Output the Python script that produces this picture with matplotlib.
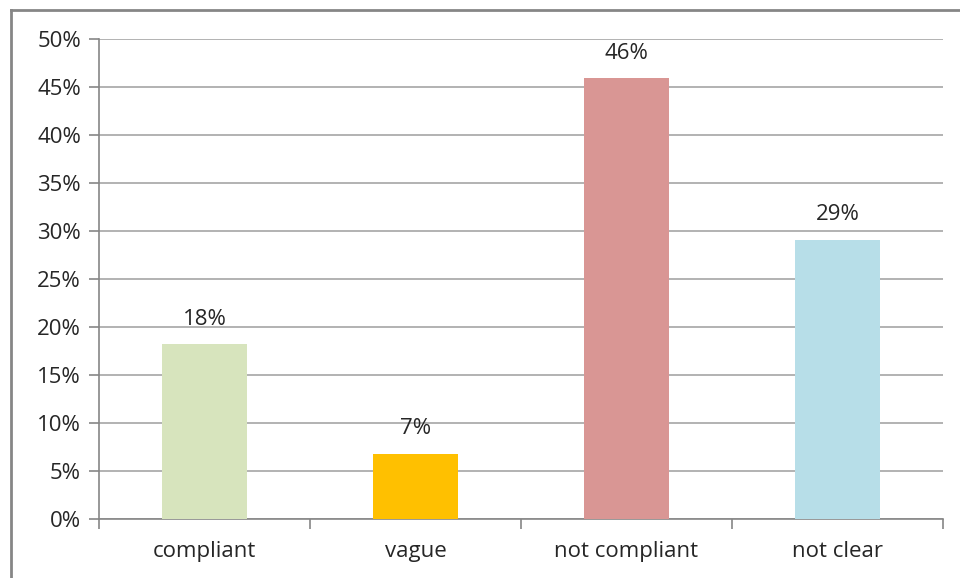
import numpy as np
import matplotlib.pyplot as plt
from matplotlib.lines import Line2D
from matplotlib.ticker import FuncFormatter

categories = ['compliant', 'vague', 'not compliant', 'not clear']
values = [0.182, 0.068, 0.459, 0.291]
labels = ['18%', '7%', '46%', '29%']
colors = ['#D7E4BD', '#FFC000', '#D99694', '#B7DEE8']

plt.rcParams['font.family'] = ['Open Sans', 'DejaVu Sans']
fs = 16

fig = plt.figure(figsize=(9.6, 5.78), dpi=100)
ax = fig.add_axes([99 / 960, 59 / 578, 844 / 960, 480 / 578])

x = np.arange(len(categories))
bars = ax.bar(x, values, width=0.4, color=colors, zorder=3)

# data labels above bars
for xi, v, lab in zip(x, values, labels):
    ax.annotate(lab, (xi, v), xytext=(0, 14), textcoords='offset points',
                ha='center', va='baseline', fontsize=fs, color='#262626')

ax.set_xlim(-0.5, len(categories) - 0.5)
ax.set_ylim(0, 0.5)
ax.set_yticks(np.arange(0, 0.501, 0.05))
ax.yaxis.set_major_formatter(FuncFormatter(lambda v, p: '%d%%' % round(v * 100)))
ax.yaxis.grid(True, color='#A6A6A6', linewidth=1.2, zorder=0)

ax.set_xticks(x)
ax.set_xticklabels(categories)
ax.set_xticks(np.arange(-0.5, len(categories)), minor=True)
ax.tick_params(axis='x', which='major', length=0, pad=16, labelsize=fs, labelcolor='#262626')
ax.tick_params(axis='x', which='minor', length=7, color='#868686', width=1.2)
ax.tick_params(axis='y', length=7, color='#868686', width=1.2, labelsize=fs,
               labelcolor='#262626', pad=6)

for s in ['top', 'right']:
    ax.spines[s].set_visible(False)
for s in ['left', 'bottom']:
    ax.spines[s].set_color('#868686')
    ax.spines[s].set_linewidth(1.2)

# chart area border (left and top visible)
fig.add_artist(Line2D([11 / 960, 11 / 960], [0, 1 - 10 / 578], transform=fig.transFigure,
                      color='#868686', linewidth=2))
fig.add_artist(Line2D([11 / 960, 1], [1 - 10 / 578, 1 - 10 / 578], transform=fig.transFigure,
                      color='#868686', linewidth=2))

fig.savefig('out.png', dpi=100)
